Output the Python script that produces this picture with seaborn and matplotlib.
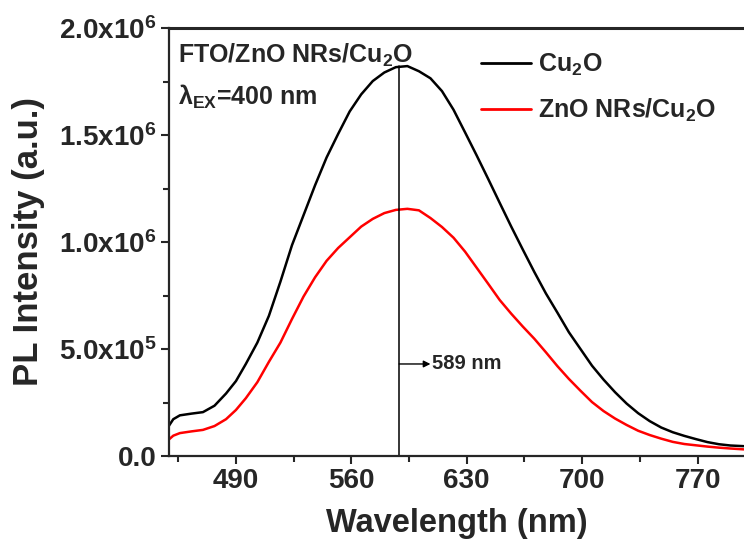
import pandas as pd
import seaborn as sns
import matplotlib.pyplot as plt
from matplotlib.ticker import FixedLocator, MultipleLocator

# PL spectra (wavelength in nm, intensity in 1e6 counts)
wavelength = [449, 452, 456, 463, 470, 477, 484, 490, 496, 503, 510, 517, 524,
              531, 538, 545, 552, 559, 566, 573, 580, 587, 594, 601, 608, 615,
              622, 629, 636, 643, 650, 657, 664, 671, 678, 685, 692, 699, 706,
              713, 720, 727, 734, 741, 748, 755, 762, 769, 776, 783, 790, 798]
cu2o = [0.137, 0.172, 0.190, 0.198, 0.205, 0.235, 0.292, 0.350, 0.430, 0.530,
        0.655, 0.815, 0.985, 1.125, 1.265, 1.395, 1.505, 1.610, 1.690, 1.752,
        1.792, 1.817, 1.822, 1.798, 1.765, 1.705, 1.618, 1.512, 1.405, 1.295,
        1.183, 1.072, 0.965, 0.860, 0.760, 0.670, 0.578, 0.500, 0.422, 0.357,
        0.298, 0.245, 0.200, 0.163, 0.133, 0.111, 0.094, 0.079, 0.065, 0.055,
        0.049, 0.046]
zno_cu2o = [0.075, 0.095, 0.107, 0.115, 0.122, 0.140, 0.172, 0.215, 0.270,
            0.345, 0.440, 0.530, 0.640, 0.745, 0.835, 0.912, 0.972, 1.022,
            1.072, 1.108, 1.135, 1.150, 1.155, 1.148, 1.112, 1.070, 1.020,
            0.955, 0.880, 0.805, 0.729, 0.665, 0.605, 0.548, 0.485, 0.420,
            0.360, 0.305, 0.252, 0.210, 0.175, 0.145, 0.118, 0.098, 0.081,
            0.066, 0.056, 0.050, 0.044, 0.039, 0.035, 0.031]
labels = ['Cu$_2$O', 'ZnO NRs/Cu$_2$O']
colors = ['black', 'red']

x_ticks = [490, 560, 630, 700, 770]
y_ticks = [0, 5e5, 1e6, 1.5e6, 2e6]
y_tick_labels = ['0.0', r'5.0x10$^5$', r'1.0x10$^6$', r'1.5x10$^6$', r'2.0x10$^6$']
peak_nm = 589
peak_height = 1.822e6

df = pd.concat([
    pd.DataFrame({'wavelength': wavelength, 'intensity': [v * 1e6 for v in cu2o], 'sample': labels[0]}),
    pd.DataFrame({'wavelength': wavelength, 'intensity': [v * 1e6 for v in zno_cu2o], 'sample': labels[1]}),
])

sns.set_style('ticks')
plt.rcParams['font.family'] = ['Liberation Sans', 'DejaVu Sans']
plt.rcParams['font.weight'] = 'bold'
plt.rcParams['mathtext.fontset'] = 'custom'
plt.rcParams['mathtext.rm'] = 'Liberation Sans'
plt.rcParams['mathtext.bf'] = 'Liberation Sans:bold'
plt.rcParams['mathtext.it'] = 'Liberation Sans:bold'
plt.rcParams['mathtext.default'] = 'bf'

fig = plt.figure(figsize=(7.44, 5.44), dpi=100)
ax = fig.add_axes([169 / 744, 88 / 544, 1 - 169 / 744, 428 / 544])

sns.lineplot(data=df, x='wavelength', y='intensity', hue='sample',
             palette=dict(zip(labels, colors)), linewidth=1.8, ax=ax,
             legend=False)

ax.plot([peak_nm, peak_nm], [0, peak_height], color='black', lw=1.1)
ax.annotate('', xy=(peak_nm, 4.3e5), xytext=(608, 4.3e5),
            arrowprops=dict(arrowstyle='<|-', color='black', lw=1.0,
                            mutation_scale=10, shrinkA=0, shrinkB=0))
ax.text(609, 4.3e5, '589 nm', fontsize=14.5, va='center', ha='left')

ax.set_xlim(449.4, 798.2)
ax.set_ylim(0, 2e6)
ax.xaxis.set_major_locator(FixedLocator(x_ticks))
ax.xaxis.set_minor_locator(MultipleLocator(70, offset=35))
ax.yaxis.set_major_locator(FixedLocator(y_ticks))
ax.set_yticklabels(y_tick_labels)
ax.yaxis.set_minor_locator(MultipleLocator(2.5e5))

ax.tick_params(which='major', length=6, width=1.5, labelsize=20, pad=3)
ax.tick_params(which='minor', length=4.5, width=1.5)
for side in ['left', 'bottom']:
    ax.spines[side].set_linewidth(1.6)
ax.spines['top'].set_linewidth(2.2)
ax.spines['right'].set_visible(False)

ax.set_xlabel('Wavelength (nm)', fontsize=23.5, fontweight='bold', labelpad=10)
ax.set_ylabel('PL Intensity (a.u.)', fontsize=25, fontweight='bold', labelpad=10)

ax.text(0.015, 0.935, 'FTO/ZnO NRs/Cu$_2$O', transform=ax.transAxes,
        fontsize=18, va='center', ha='left')
ax.text(0.015, 0.84, r'$\mathrm{\lambda_{EX}}$=400 nm', transform=ax.transAxes,
        fontsize=18, va='center', ha='left')

handles = [plt.Line2D([], [], color=c, lw=2.0) for c in colors]
fig.legend(handles, labels, loc='upper left', bbox_to_anchor=(481 / 744, 1 - 52 / 544),
           frameon=False, fontsize=18, handlelength=2.0, handletextpad=0.3,
           labelspacing=0.75, borderpad=0, borderaxespad=0)

fig.savefig('out.png', dpi=100)
